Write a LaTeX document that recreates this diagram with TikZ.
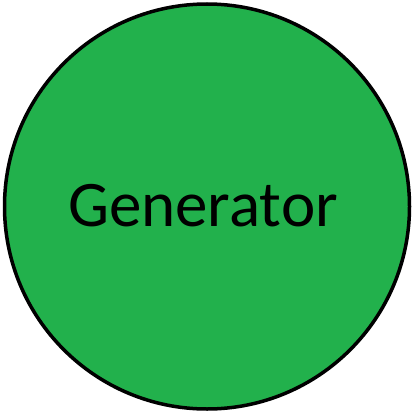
\documentclass[tikz,border=0pt]{standalone}
\usepackage{fontspec}
\setmainfont{Carlito}
\definecolor{gengreen}{RGB}{34,177,76}
\begin{document}
\begin{tikzpicture}[x=1pt, y=1pt, line join=round, line cap=round]
				\useasboundingbox (0,0) rectangle (414,413);
				\node[circle, draw=black, line width=3.5pt, fill=gengreen, minimum size=405pt, inner sep=0pt] (gen) at (207,206.5) {};
				\node[font=\fontsize{65}{72}\selectfont, xshift=-4pt, yshift=1pt] (label) at (gen.center) {Generator};
			\end{tikzpicture}
\end{document}
